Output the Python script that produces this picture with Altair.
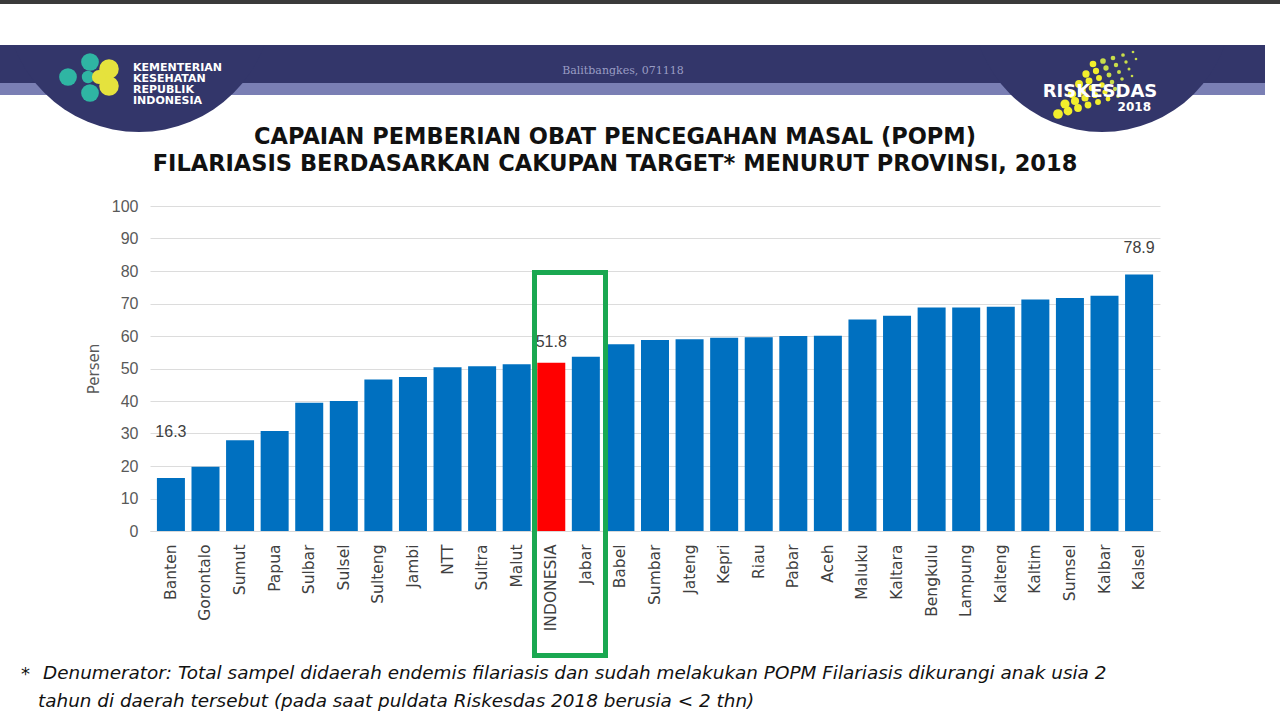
import math
import altair as alt
import pandas as pd

# Capaian POPM Filariasis per provinsi, Riskesdas 2018 (persen)
provinsi = ["Banten", "Gorontalo", "Sumut", "Papua", "Sulbar", "Sulsel", "Sulteng",
            "Jambi", "NTT", "Sultra", "Malut", "INDONESIA", "Jabar", "Babel", "Sumbar",
            "Jateng", "Kepri", "Riau", "Pabar", "Aceh", "Maluku", "Kaltara", "Bengkulu",
            "Lampung", "Kalteng", "Kaltim", "Sumsel", "Kalbar", "Kalsel"]
persen = [16.3, 19.8, 27.9, 30.8, 39.5, 40.0, 46.6, 47.4, 50.4, 50.7, 51.3, 51.8, 53.6,
          57.5, 58.8, 59.0, 59.5, 59.6, 60.0, 60.1, 65.1, 66.2, 68.8, 68.8, 69.0, 71.2,
          71.7, 72.4, 78.9]
y_ticks = [0, 10, 20, 30, 40, 50, 60, 70, 80, 90, 100]

judul_1 = "CAPAIAN PEMBERIAN OBAT PENCEGAHAN MASAL (POPM)"
judul_2 = "FILARIASIS BERDASARKAN CAKUPAN TARGET* MENURUT PROVINSI, 2018"
catatan_1 = "Denumerator: Total sampel didaerah endemis filariasis dan sudah melakukan POPM Filariasis dikurangi anak usia 2"
catatan_2 = "tahun di daerah tersebut (pada saat puldata Riskesdas  2018 berusia < 2 thn)"

df = pd.DataFrame({"provinsi": provinsi, "persen": persen})

# page geometry: plot area origin on the page
OX, OY = 150, 206
PW, PH = 1010, 325
FONT = "Liberation Sans"
WIDE = "DejaVu Sans"
NAVY = "#33366a"


def px(x):
    return x - OX


def py(y):
    return y - OY


one = pd.DataFrame({"k": [0]})


def rect(x1, y1, x2, y2, color):
    return alt.Chart(one).mark_rect(color=color).encode(
        x=alt.value(px(x1)), x2=alt.value(px(x2)),
        y=alt.value(py(y1)), y2=alt.value(py(y2)))


def text(s, x, y, **kw):
    return alt.Chart(one).mark_text(text=s, **kw).encode(
        x=alt.value(px(x)), y=alt.value(py(y)))


def dot(x, y, r, color):
    return alt.Chart(one).mark_circle(color=color, opacity=1, size=math.pi * r * r).encode(
        x=alt.value(px(x)), y=alt.value(py(y)))


# ---- main bar chart ----
x_enc = alt.X("provinsi:N", sort=provinsi, title=None,
              scale=alt.Scale(paddingInner=0.19, paddingOuter=0.2),
              axis=alt.Axis(labelAngle=-90, labelFontSize=15.5, labelColor="#404040",
                            labelFont=WIDE, labelPadding=13, ticks=False,
                            domainColor="#d9d9d9", labelOverlap=False))
y_enc = alt.Y("persen:Q", title="Persen",
              scale=alt.Scale(domain=[0, 100], nice=False),
              axis=alt.Axis(values=y_ticks, labelFontSize=16, labelColor="#595959",
                            labelFont=FONT, labelPadding=12, ticks=False, domain=False,
                            labelOverlap=False, gridColor="#dcdcdc", titleFont=WIDE,
                            titleFontSize=15, titleFontWeight="normal",
                            titleColor="#595959", titlePadding=10))

bars = alt.Chart(df).mark_bar().encode(
    x=x_enc, y=y_enc,
    color=alt.condition(alt.datum.provinsi == "INDONESIA",
                        alt.value("#ff0000"), alt.value("#0070c0")))

label_dy = {"Banten": -38, "INDONESIA": -13, "Kalsel": -19}
value_labels = [
    alt.Chart(df).transform_filter(alt.datum.provinsi == name)
    .mark_text(font=FONT, fontSize=16, color="#404040", baseline="bottom", dy=dy)
    .encode(x=x_enc, y=y_enc, text=alt.Text("persen:Q", format=".1f"))
    for name, dy in label_dy.items()
]

main = alt.layer(bars, *value_labels)

# ---- page decoration: header band, emblems, title, highlight box, note ----
decor = [
    rect(0, 45, 1265, 83, NAVY),
    rect(0, 83, 1265, 95, "#7a7fb4"),
    alt.Chart(one).mark_arc(radius=134, theta=math.pi / 2, theta2=3 * math.pi / 2,
                            color=NAVY).encode(x=alt.value(px(139)), y=alt.value(py(-2))),
    alt.Chart(one).mark_arc(radius=130, theta=math.pi / 2, theta2=3 * math.pi / 2,
                            color=NAVY).encode(x=alt.value(px(1102)), y=alt.value(py(2))),
    rect(0, 0, 1280, 45, "#ffffff"),
    rect(0, 0, 1280, 4, "#3a3a3a"),
    text("Balitbangkes, 071118", 623, 71, font="DejaVu Serif", fontSize=11,
         color="#9a9dc4"),
    # Kemenkes emblem
    dot(68, 77, 10, "#2fb5a3"),
    dot(90, 62, 10, "#2fb5a3"),
    dot(90, 93, 10, "#2fb5a3"),
    dot(88, 77, 7, "#2fb5a3"),
    dot(109, 69, 11, "#e5e23d"),
    dot(109, 86, 11, "#e5e23d"),
    dot(99, 77, 8, "#e5e23d"),
]
for i, word in enumerate(["KEMENTERIAN", "KESEHATAN", "REPUBLIK", "INDONESIA"]):
    decor.append(text(word, 133, 68 + 11 * i, font=WIDE, fontWeight="bold",
                      fontSize=11, color="white", align="left"))

# Riskesdas emblem dots
for r in range(6):
    for c in range(7):
        x = 1058 + 10 * c + 7 * r
        y = 114 - 3 * c - 10 * r
        if x > 1136 or y < 52:
            continue
        rad = max(1.5, 5.5 - 0.55 * c - 0.35 * r)
        col = "#f2ee2c" if c + r < 6 else "#c9dd4a"
        decor.append(dot(x, y, rad, col))

decor += [
    text("RISKESDAS", 1100, 92, font=WIDE, fontWeight="bold", fontSize=18,
         color="white"),
    text("2018", 1151, 107, font=WIDE, fontWeight="bold", fontSize=12,
         color="white", align="right"),
    text(judul_1, 615, 137, font=WIDE, fontWeight="bold", fontSize=22.5,
         color="#111111"),
    text(judul_2, 615, 164, font=WIDE, fontWeight="bold", fontSize=22.5,
         color="#111111"),
    alt.Chart(one).mark_rect(filled=False, stroke="#1aa851", strokeWidth=5).encode(
        x=alt.value(px(534.5)), x2=alt.value(px(605.5)),
        y=alt.value(py(272.5)), y2=alt.value(py(655.5))),
    text("*", 21, 675, font=WIDE, fontStyle="italic", fontSize=18, color="#111111",
         align="left"),
    text(catatan_1, 43, 673, font=WIDE, fontStyle="italic", fontSize=18.4,
         color="#111111", align="left"),
    text(catatan_2, 38, 701, font=WIDE, fontStyle="italic", fontSize=18.4,
         color="#111111", align="left"),
]

chart = alt.layer(main, *decor).properties(
    width=PW, height=PH,
    autosize=alt.AutoSizeParams(type="none"),
    padding={"left": OX, "top": OY, "right": 1280 - OX - PW, "bottom": 720 - OY - PH},
    background="white",
).configure_view(stroke=None)

chart.save("out.html", embed_options={"renderer": "svg", "actions": False})
